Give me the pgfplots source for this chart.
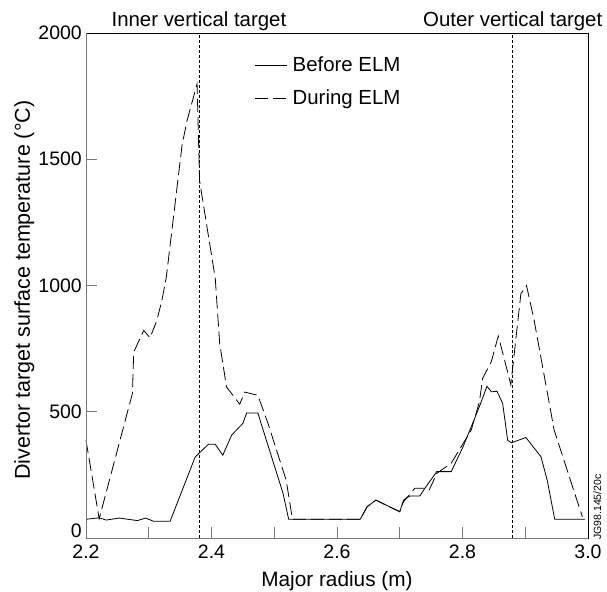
\documentclass[border=0pt]{standalone}
\usepackage{fontspec}
\setmainfont{Liberation Sans}
\usepackage{pgfplots}
\pgfplotsset{compat=1.18}
\definecolor{axgray}{RGB}{120,120,120}
\begin{document}
\fontsize{20}{24}\selectfont
\begin{tikzpicture}
\begin{axis}[
  name=ax,
  scale only axis, width=502pt, height=505pt,
  xmin=2.2, xmax=3.0, ymin=0, ymax=2000,
  xtick={2.2,2.4,2.6,2.8,3.0},
  xticklabels={2.2,2.4,2.6,2.8,3.0},
  minor xtick={2.3,2.5,2.7,2.9},
  ytick={500,1000,1500,2000},
  yticklabels={500,1000,1500,2000},
  extra y ticks={0},
  extra y tick labels={0},
  extra y tick style={yticklabel style={anchor=south east}},
  tick pos=left, tick align=inside,
  major tick length=11pt, minor tick length=11pt,
  tick style={axgray, line width=0.9pt},
  axis line style={black, line width=0.8pt},
  every tick label/.append style={font=\fontsize{19.5}{23}\selectfont},
  xticklabel style={yshift=-0.5pt},
  yticklabel style={inner sep=0pt, xshift=-4pt},
  legend style={draw=none, fill=none, at={(0.33,0.962)}, anchor=north west,
    row sep=11.5pt, font=\fontsize{20.4}{24}\selectfont,
    /tikz/every odd column/.append style={column sep=3pt}},
  legend cell align=left,
  legend image code/.code={\draw[#1] (0pt,0pt) -- (32pt,0pt);},
  clip=false,
]
\addplot[black, line width=0.8pt] coordinates {
(2.200,74)(2.221,80)(2.232,71)(2.253,79)(2.282,69)(2.295,79)(2.308,66)(2.334,66)
(2.374,321)(2.395,371)(2.406,371)(2.418,328)(2.432,407)(2.450,454)(2.456,495)
(2.474,495)(2.479,454)(2.514,177)(2.523,74)(2.637,74)(2.648,124)(2.662,150)
(2.700,104)(2.706,150)(2.716,166)(2.732,166)(2.740,197)(2.759,263)(2.782,263)
(2.801,362)(2.814,441)(2.827,521)(2.839,601)(2.846,579)(2.855,581)(2.864,533)
(2.872,387)(2.878,377)(2.901,398)(2.925,322)(2.935,229)(2.947,74)(2.995,74)
};
\addlegendentry{Before ELM}
\addplot[black, line width=0.8pt, dash pattern=on 13pt off 5pt] coordinates {
(2.200,387)(2.221,76)(2.274,573)(2.276,736)(2.292,822)(2.302,793)(2.313,862)
(2.321,941)(2.328,1033)(2.353,1554)(2.361,1653)(2.377,1798)(2.381,1415)
(2.406,1028)(2.413,771)(2.424,598)(2.445,530)(2.453,578)(2.474,565)(2.490,454)
(2.519,229)(2.529,74)(2.637,74)(2.648,124)(2.662,150)(2.700,104)(2.706,144)
(2.724,197)(2.739,197)(2.747,190)(2.759,256)(2.782,296)(2.814,428)(2.827,540)
(2.832,632)(2.846,699)(2.857,800)(2.867,705)(2.877,607)(2.893,967)(2.902,1000)
(2.914,864)(2.946,428)(2.972,229)(2.991,84)
};
\addlegendentry{During ELM}
\addplot[black, line width=0.6pt, dash pattern=on 3pt off 2pt, forget plot] coordinates {(2.38,0)(2.38,2000)};
\addplot[black, line width=0.6pt, dash pattern=on 3pt off 2pt, forget plot] coordinates {(2.88,0)(2.88,2000)};
\draw[axgray, line width=1pt] (rel axis cs:0,1) -- (rel axis cs:0,0) -- (rel axis cs:1,0);
\node[anchor=base, yshift=6pt, font=\fontsize{20.4}{24}\selectfont] at (axis cs:2.38,2000) {Inner vertical target};
\node[anchor=base, yshift=6pt, font=\fontsize{20.4}{24}\selectfont] at (axis cs:2.88,2000) {Outer vertical target};
\node[anchor=base, font=\fontsize{20.8}{24}\selectfont] at ([yshift=-48pt]rel axis cs:0.5,0) {Major radius (m)};
\node[rotate=90, anchor=base, font=\fontsize{21.5}{25}\selectfont] at ([xshift=-56pt]rel axis cs:0,0.491) {Divertor target surface temperature (°C)};
\node[rotate=90, anchor=base west, inner sep=0pt, font=\fontsize{10.5}{12}\selectfont] at ([xshift=13pt, yshift=-2pt]rel axis cs:1,0) {JG98.145/20c};
\end{axis}
\pgfresetboundingbox
\path ([shift={(-86pt,-53pt)}]ax.south west) rectangle ([shift={(19pt,33pt)}]ax.north east);
\end{tikzpicture}
\end{document}
